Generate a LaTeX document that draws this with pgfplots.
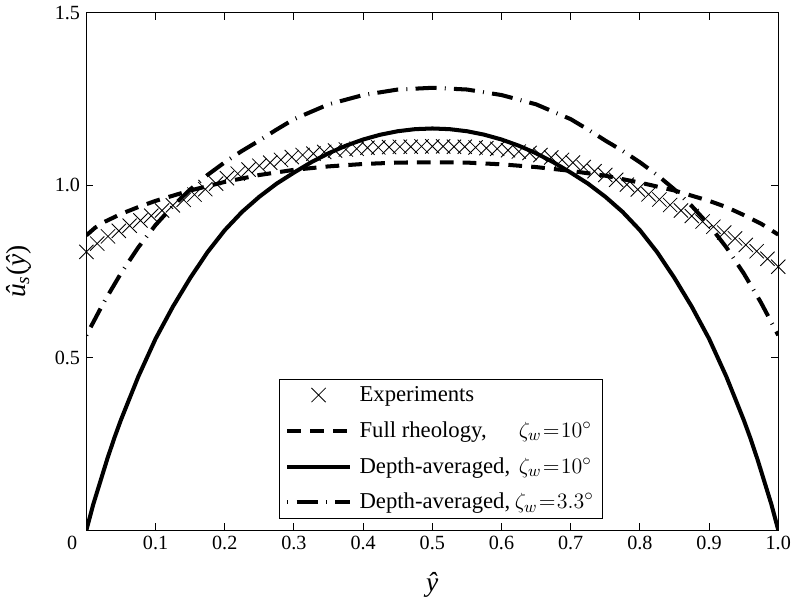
\documentclass[border=0pt]{standalone}
\usepackage{fontspec}
\setmainfont{Liberation Serif}
\usepackage{pgfplots}
\pgfplotsset{compat=1.18}

\newcommand\rs{\rule[-2.9pt]{0pt}{11.5pt}}
\newcommand\rsl{\rule[-10.5pt]{0pt}{19.1pt}}
\newlength\lw
\newlength\lwa

\begin{document}%
\settowidth\lw{\fontsize{12.4}{15}\selectfont Depth-averaged,}%
\addtolength\lw{2.5pt}%
\setlength\lwa{\lw}%
\addtolength\lwa{2.2pt}%
\begin{tikzpicture}
\begin{axis}[
  name=ax,
  scale only axis,
  width=378pt, height=282.5pt,
  xmin=0, xmax=1, ymin=0, ymax=1.5,
  axis line style={line width=0.55pt},
  tick style={line width=0.55pt, black},
  tick align=inside,
  major tick length=3.8pt,
  xtick={0,0.1,0.2,0.3,0.4,0.5,0.6,0.7,0.8,0.9,1},
  xticklabels={{\makebox[0pt][r]{0\hspace{5pt}}},0.1,0.2,0.3,0.4,0.5,0.6,0.7,0.8,0.9,1.0},
  ytick={0,0.5,1,1.5},
  yticklabels={,0.5,1.0,1.5},
  tick label style={font=\fontsize{11}{13}\selectfont},
  xlabel={\itshape ŷ},
  ylabel={{\itshape û}\textsubscript{\itshape s}({\itshape ŷ})},
  xlabel style={font=\fontsize{15}{18}\selectfont, at={(axis description cs:0.5,-0.118)}, anchor=base},
  ylabel style={font=\fontsize{15}{18}\selectfont, at={(axis description cs:-0.0886,0.5)}, anchor=base, rotate=0},
  clip mode=individual,
  legend image code/.code={\draw[mark repeat=2,mark phase=2,#1] plot coordinates {(0pt,0pt) (17pt,0pt) (34pt,0pt)};},
  legend cell align=left,
  legend style={
    at={(0.2798,0.0232)}, anchor=south west, outer sep=0pt,
    draw=black, line width=0.55pt,
    font=\fontsize{12.4}{15}\selectfont,
    inner xsep=3pt, inner ysep=1.5pt,
    row sep=5.45pt, column sep=2.3pt,
    nodes={inner sep=2pt}
  },
]

% experiments
\addplot[only marks, mark=x, mark size=5.5pt, mark options={line width=0.45pt, black}] table {
0.000000 0.807
0.015625 0.831
0.031250 0.852
0.046875 0.868
0.062500 0.883
0.078125 0.898
0.093750 0.912
0.109375 0.927
0.125000 0.942
0.140625 0.958
0.156250 0.973
0.171875 0.989
0.187500 1.005
0.203125 1.021
0.218750 1.034
0.234375 1.046
0.250000 1.057
0.265625 1.066
0.281250 1.074
0.296875 1.082
0.312500 1.088
0.328125 1.092
0.343750 1.097
0.359375 1.101
0.375000 1.104
0.390625 1.106
0.406250 1.109
0.421875 1.110
0.437500 1.111
0.453125 1.112
0.468750 1.112
0.484375 1.113
0.500000 1.113
0.515625 1.113
0.531250 1.112
0.546875 1.112
0.562500 1.110
0.578125 1.108
0.593750 1.106
0.609375 1.102
0.625000 1.098
0.640625 1.094
0.656250 1.088
0.671875 1.081
0.687500 1.074
0.703125 1.066
0.718750 1.053
0.734375 1.041
0.750000 1.030
0.765625 1.016
0.781250 1.002
0.796875 0.988
0.812500 0.974
0.828125 0.959
0.843750 0.943
0.859375 0.927
0.875000 0.911
0.890625 0.895
0.906250 0.880
0.921875 0.863
0.937500 0.846
0.953125 0.827
0.968750 0.809
0.984375 0.787
1.000000 0.764
};
\addlegendentry{\rs Experiments}

% full rheology
\addplot[black, line width=2.2pt, dash pattern=on 7.5pt off 5pt] table {
0.0000 0.855
0.0125 0.877
0.0250 0.893
0.0500 0.917
0.0750 0.937
0.1000 0.955
0.1500 0.985
0.2000 1.010
0.2500 1.030
0.3000 1.045
0.3500 1.055
0.4000 1.062
0.4500 1.066
0.5000 1.067
0.5500 1.066
0.6000 1.061
0.6500 1.053
0.7000 1.042
0.7500 1.028
0.8000 1.008
0.8500 0.985
0.9000 0.955
0.9250 0.937
0.9500 0.914
0.9750 0.889
0.9875 0.873
1.0000 0.857
};
\addlegendentry{\rs\makebox[\lwa][l]{Full rheology,}$\thickmuskip=1mu \zeta_w = 10^\circ$}

% depth-averaged, 10 deg
\addplot[black, line width=2.2pt] table {
0.000 0.000
0.010 0.075
0.020 0.140
0.030 0.205
0.040 0.265
0.050 0.320
0.075 0.445
0.100 0.555
0.125 0.648
0.150 0.731
0.175 0.806
0.200 0.870
0.225 0.923
0.250 0.967
0.275 1.005
0.300 1.037
0.325 1.067
0.350 1.093
0.375 1.115
0.400 1.133
0.425 1.147
0.450 1.157
0.475 1.163
0.500 1.165
0.525 1.163
0.550 1.157
0.575 1.147
0.600 1.133
0.625 1.115
0.650 1.093
0.675 1.067
0.700 1.037
0.725 1.005
0.750 0.967
0.775 0.923
0.800 0.870
0.825 0.806
0.850 0.731
0.875 0.648
0.900 0.555
0.925 0.445
0.950 0.320
0.960 0.265
0.970 0.205
0.980 0.140
0.990 0.075
1.000 0.000
};
\addlegendentry{\rs\makebox[\lwa][l]{Depth-averaged,}$\thickmuskip=1mu \zeta_w = 10^\circ$}

% depth-averaged, 3.3 deg
\addplot[black, line width=2.2pt, dash pattern=on 0.5pt off 4.5pt on 11.5pt off 4.5pt] table {
0.000 0.565
0.010 0.603
0.025 0.660
0.050 0.745
0.075 0.820
0.100 0.885
0.125 0.940
0.150 0.988
0.175 1.030
0.200 1.067
0.225 1.100
0.250 1.130
0.275 1.162
0.300 1.192
0.350 1.235
0.400 1.262
0.450 1.278
0.500 1.283
0.550 1.278
0.600 1.262
0.650 1.235
0.700 1.192
0.725 1.162
0.750 1.130
0.775 1.100
0.800 1.067
0.825 1.030
0.850 0.988
0.875 0.940
0.900 0.885
0.925 0.820
0.950 0.745
0.975 0.660
0.990 0.603
1.000 0.565
};
\addlegendentry{\rsl\makebox[\lw][l]{Depth-averaged,}$\thickmuskip=1mu \zeta_w = 3.3^\circ$}
\end{axis}
\pgfresetboundingbox
\path ([xshift=-47.2pt,yshift=-37.2pt]ax.south west) rectangle ([xshift=8.6pt,yshift=7.1pt]ax.north east);
\end{tikzpicture}%
\end{document}
